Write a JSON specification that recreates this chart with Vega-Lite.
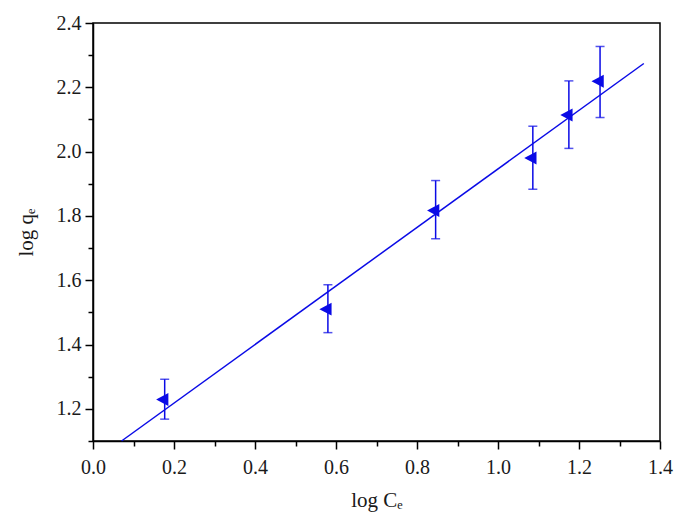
{
  "$schema": "https://vega.github.io/schema/vega-lite/v6.json",
  "width": 567,
  "height": 418,
  "autosize": "none",
  "padding": {"left": 93, "top": 23, "right": 26, "bottom": 82},
  "background": "white",
  "config": {
    "view": {"stroke": "#000", "strokeWidth": 1.5},
    "axis": {
      "domainColor": "#000", "domainWidth": 1.5,
      "tickColor": "#000", "tickWidth": 1.5,
      "labelFont": "Liberation Serif", "labelFontSize": 20, "labelColor": "#1a1a1a", "labelFlush": false,
      "titleFont": "Liberation Serif", "titleFontSize": 21, "titleFontWeight": "normal", "titleColor": "#1a1a1a",
      "grid": false
    }
  },
  "datasets": {
    "pts": [
      {"logCe": 0.177, "logqe": 1.229, "lo": 1.168, "hi": 1.292},
      {"logCe": 0.580, "logqe": 1.510, "lo": 1.437, "hi": 1.586},
      {"logCe": 0.846, "logqe": 1.817, "lo": 1.729, "hi": 1.910},
      {"logCe": 1.086, "logqe": 1.980, "lo": 1.883, "hi": 2.079},
      {"logCe": 1.175, "logqe": 2.114, "lo": 2.010, "hi": 2.220},
      {"logCe": 1.252, "logqe": 2.219, "lo": 2.106, "hi": 2.327}
    ],
    "fit": [
      {"logCe": 0.0705, "logqe": 1.1},
      {"logCe": 1.36, "logqe": 2.274}
    ]
  },
  "layer": [
    {
      "data": {"name": "fit"},
      "mark": {"type": "line", "color": "#0a0ae6", "strokeWidth": 1.5},
      "encoding": {
        "x": {"field": "logCe", "type": "quantitative",
          "scale": {"domain": [0, 1.4], "nice": false, "zero": false},
          "axis": {"orient": "bottom", "title": "log Cₑ", "values": [0, 0.2, 0.4, 0.6, 0.8, 1.0, 1.2, 1.4], "format": ".1f", "tickSize": 8, "labelPadding": 8, "titlePadding": 12}},
        "y": {"field": "logqe", "type": "quantitative",
          "scale": {"domain": [1.1, 2.4], "nice": false, "zero": false},
          "axis": {"orient": "left", "title": "log qₑ", "values": [1.2, 1.4, 1.6, 1.8, 2.0, 2.2, 2.4], "format": ".1f", "tickSize": 8, "labelPadding": 4, "titlePadding": 20}}
      }
    },
    {
      "data": {"name": "pts"},
      "mark": {"type": "rule", "color": "#0a0ae6", "strokeWidth": 1.5},
      "encoding": {
        "x": {"field": "logCe", "type": "quantitative",
          "axis": {"orient": "bottom", "title": null, "labels": false, "domain": false, "values": [0.1, 0.3, 0.5, 0.7, 0.9, 1.1, 1.3], "tickSize": 5}},
        "y": {"field": "lo", "type": "quantitative",
          "axis": {"orient": "left", "title": null, "labels": false, "domain": false, "values": [1.1, 1.3, 1.5, 1.7, 1.9, 2.1, 2.3], "tickSize": 5}},
        "y2": {"field": "hi"}
      }
    },
    {
      "data": {"name": "pts"},
      "mark": {"type": "tick", "orient": "horizontal", "color": "#0a0ae6", "size": 9, "thickness": 1.5},
      "encoding": {
        "x": {"field": "logCe", "type": "quantitative", "axis": null},
        "y": {"field": "lo", "type": "quantitative", "axis": null}
      }
    },
    {
      "data": {"name": "pts"},
      "mark": {"type": "tick", "orient": "horizontal", "color": "#0a0ae6", "size": 9, "thickness": 1.5},
      "encoding": {
        "x": {"field": "logCe", "type": "quantitative", "axis": null},
        "y": {"field": "hi", "type": "quantitative", "axis": null}
      }
    },
    {
      "data": {"name": "pts"},
      "mark": {"type": "point", "shape": "M-1.4,0L0.6,-1.05L0.6,1.05Z", "size": 150, "filled": true, "color": "#0a0ae6", "opacity": 1},
      "encoding": {
        "x": {"field": "logCe", "type": "quantitative", "axis": null},
        "y": {"field": "logqe", "type": "quantitative", "axis": null}
      }
    }
  ],
  "resolve": {"axis": {"x": "independent", "y": "independent"}}
}
